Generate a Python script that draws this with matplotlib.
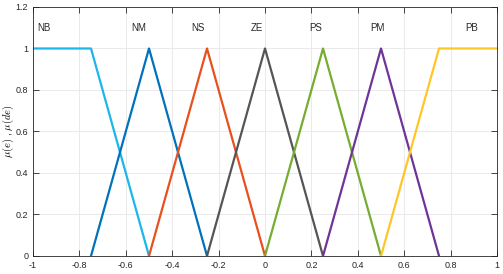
import matplotlib
matplotlib.use("Agg")
import matplotlib.pyplot as plt

plt.rcParams['font.family'] = ['Liberation Sans', 'DejaVu Sans']
plt.rcParams['mathtext.fontset'] = 'cm'

labels = ["NB", "NM", "NS", "ZE", "PS", "PM", "PB"]
xs = [[-1, -0.75, -0.5], [-0.75, -0.5, -0.25], [-0.5, -0.25, 0], [-0.25, 0, 0.25],
      [0, 0.25, 0.5], [0.25, 0.5, 0.75], [0.5, 0.75, 1]]
ys = [[1, 1, 0], [0, 1, 0], [0, 1, 0], [0, 1, 0], [0, 1, 0], [0, 1, 0], [0, 1, 1]]
colors = ["#1CB6E8", "#0072BD", "#E8501E", "#555555", "#77AC30", "#6F3497", "#FFC62A"]
label_x = [-0.955, -0.545, -0.29, -0.035, 0.22, 0.485, 0.89]
label_y = 1.1

fig = plt.figure(figsize=(5.03, 2.74), dpi=100)
ax = fig.add_axes([0.0656, 0.0657, 0.9225, 0.9088])
for x, y, c in zip(xs, ys, colors):
    ax.plot(x, y, color=c, lw=1.6)
for lx, lab in zip(label_x, labels):
    ax.text(lx, label_y, lab, fontsize=7, ha='center', va='center', color='#262626')

ax.set_xlim(-1, 1)
ax.set_ylim(0, 1.2)
ax.set_xticks([-1, -0.8, -0.6, -0.4, -0.2, 0, 0.2, 0.4, 0.6, 0.8, 1])
ax.set_xticklabels(["-1", "-0.8", "-0.6", "-0.4", "-0.2", "0", "0.2", "0.4", "0.6", "0.8", "1"])
ax.set_yticks([0, 0.2, 0.4, 0.6, 0.8, 1, 1.2])
ax.set_yticklabels(["0", "0.2", "0.4", "0.6", "0.8", "1", "1.2"])
ax.grid(True, color='#E6E6E6', lw=0.6)
ax.set_axisbelow(True)
ax.tick_params(direction='in', top=True, right=True, labelsize=6.5, colors='#262626',
               length=4, width=0.6)
for s in ax.spines.values():
    s.set_color('#262626')
    s.set_linewidth(0.6)
ax.set_ylabel(r"$\mu(e)$ , $\mu(de)$", fontsize=7.5, labelpad=0)
fig.savefig("out.png", dpi=100)
